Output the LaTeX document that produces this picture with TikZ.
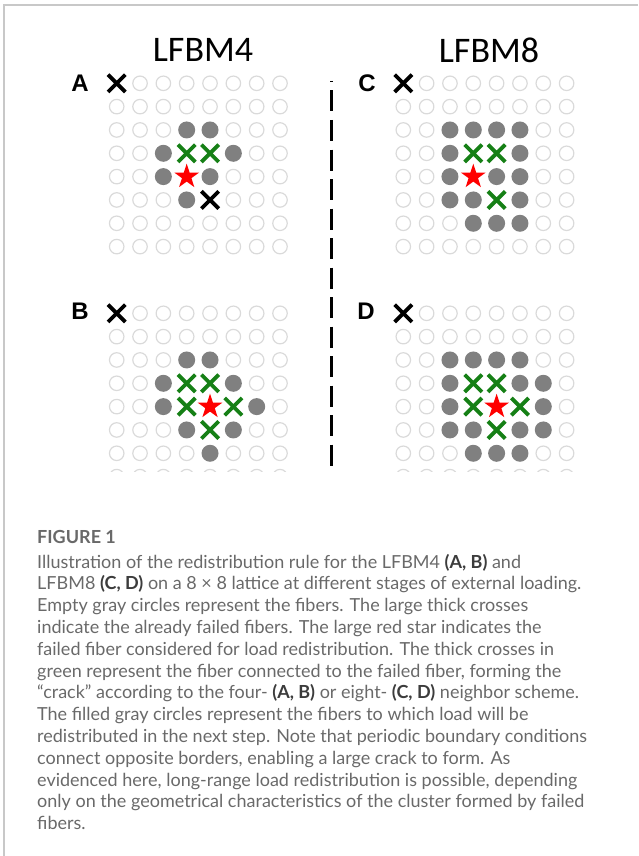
\documentclass[tikz,border=0pt]{standalone}
\usepackage{fontspec}
\setmainfont{Lato}
\newfontfamily\headfont{Carlito}
\newfontfamily\panelfont{Liberation Sans}
\usetikzlibrary{shapes.misc,shapes.geometric}
\definecolor{framegray}{RGB}{200,200,200}
\definecolor{fibergray}{RGB}{218,218,218}
\definecolor{loadgray}{RGB}{128,128,128}
\definecolor{crackgreen}{RGB}{22,128,22}
\definecolor{textgray}{RGB}{105,105,105}
\definecolor{boldgray}{RGB}{60,60,60}

\tikzset{
  fiber/.style={circle, draw=fibergray, line width=1.2pt, minimum size=14.5pt, inner sep=0pt},
  cover/.style={circle, fill=white, minimum size=20pt, inner sep=0pt},
  loaded/.style={circle, fill=loadgray, minimum size=17pt, inner sep=0pt},
  xmark/.style={cross out, line width=3.8pt, minimum size=13.5pt, inner sep=0pt},
  broken/.style={cover, label={[xmark, draw=black]center:}},
  crack/.style={cover, label={[xmark, draw=crackgreen]center:}},
  redstar/.style={star, star points=5, star point ratio=2.618, fill=red, minimum size=26pt, inner sep=0pt},
  hit/.style={cover, minimum size=28pt, label={[redstar]center:}},
  title/.style={font=\headfont\fontsize{36}{36}\selectfont},
  panel/.style={font=\panelfont\bfseries\fontsize{24}{24}\selectfont},
  divider/.style={line width=3pt, dash pattern=on 21pt off 8.5pt, dash phase=20pt},
  capline/.style={anchor=base west, inner sep=0pt, text=textgray, font=\fontsize{18}{20}\selectfont},
}

% 8 x 8 lattice of fibers, top left fiber at (#2,#3)
\newcommand\lattice[3]{%
  \foreach \r in {0,...,7}
    \foreach \c in {0,...,7}
      \node[fiber] (#1-\r-\c) at ({#2+\c*23.33},{#3+\r*23.33}) {};
}

\begin{document}
\begin{tikzpicture}[x=1pt, y=-1pt]
  \useasboundingbox (0,0) rectangle (638,856);
  \draw[framegray, line width=1.4pt] (4,856) -- (4,5) -- (638,5);

  \node[title] (t4) at (203,50) {LFBM4};
  \node[title] (t8) at (489,50) {LFBM8};

  % four- neighbor scheme
  \node[panel] (labA) at (80,83) {A};
  \lattice{A}{116.7}{83.3}
  \foreach \r/\c in {2/3,2/4,3/2,3/5,4/2,4/4,5/3}
    \node[loaded] (A-l-\r-\c) at (A-\r-\c) {};
  \foreach \r/\c in {0/0,5/4}
    \node[broken] (A-x-\r-\c) at (A-\r-\c) {};
  \foreach \r/\c in {3/3,3/4}
    \node[crack] (A-g-\r-\c) at (A-\r-\c) {};
  \node[hit] (A-star) at (A-4-3) {};

  \begin{scope}
    \clip (0,0) rectangle (638,471);
    \node[panel] (labB) at (80,311) {B};
    \lattice{B}{116.7}{313.3}
    \foreach \r/\c in {2/3,2/4,3/2,3/5,4/2,4/6,5/3,5/5,6/4}
      \node[loaded] (B-l-\r-\c) at (B-\r-\c) {};
    \node[broken] (B-x-0-0) at (B-0-0) {};
    \foreach \r/\c in {3/3,3/4,4/3,4/5,5/4}
      \node[crack] (B-g-\r-\c) at (B-\r-\c) {};
    \node[hit] (B-star) at (B-4-4) {};
  \end{scope}

  % eight- neighbor scheme
  \node[panel] (labC) at (367,83) {C};
  \lattice{C}{403.3}{83.3}
  \foreach \r/\c in {2/2,2/3,2/4,2/5,3/2,3/5,4/2,4/4,4/5,5/2,5/3,5/5,6/3,6/4,6/5}
    \node[loaded] (C-l-\r-\c) at (C-\r-\c) {};
  \node[broken] (C-x-0-0) at (C-0-0) {};
  \foreach \r/\c in {3/3,3/4,5/4}
    \node[crack] (C-g-\r-\c) at (C-\r-\c) {};
  \node[hit] (C-star) at (C-4-3) {};

  \begin{scope}
    \clip (0,0) rectangle (638,471);
    \node[panel] (labD) at (366,311) {D};
    \lattice{D}{403.3}{313.3}
    \foreach \r/\c in {2/2,2/3,2/4,2/5,3/2,3/5,3/6,4/2,4/6,5/2,5/3,5/5,5/6,6/3,6/4,6/5}
      \node[loaded] (D-l-\r-\c) at (D-\r-\c) {};
    \node[broken] (D-x-0-0) at (D-0-0) {};
    \foreach \r/\c in {3/3,3/4,4/3,4/5,5/4}
      \node[crack] (D-g-\r-\c) at (D-\r-\c) {};
    \node[hit] (D-star) at (D-4-4) {};
  \end{scope}

  \coordinate (divtop) at (331,81);
  \coordinate (divbot) at (331,471);
  \draw[divider] (divtop) -- (divbot);

  % caption
  \node[capline, font=\bfseries\fontsize{18}{20}\selectfont] (fig) at (37,543) {FIGURE 1};
  \foreach \txt [count=\i] in {
    {Illustration of the redistribution rule for the LFBM4 \textcolor{boldgray}{\bfseries(A, B)} and},
    {LFBM8 \textcolor{boldgray}{\bfseries(C, D)} on a 8 × 8 lattice at different stages of external loading.},
    {Empty gray circles represent the fibers. The large thick crosses},
    {indicate the already failed fibers. The large red star indicates the},
    {failed fiber considered for load redistribution. The thick crosses in},
    {green represent the fiber connected to the failed fiber, forming the},
    {“crack” according to the four- \textcolor{boldgray}{\bfseries(A, B)} or eight- \textcolor{boldgray}{\bfseries(C, D)} neighbor scheme.},
    {The filled gray circles represent the fibers to which load will be},
    {redistributed in the next step. Note that periodic boundary conditions},
    {connect opposite borders, enabling a large crack to form. As},
    {evidenced here, long-range load redistribution is possible, depending},
    {only on the geometrical characteristics of the cluster formed by failed},
    {fibers.}}
    \node[capline] (cap-\i) at (37,{546.2+\i*21.8}) {\txt};
\end{tikzpicture}
\end{document}
